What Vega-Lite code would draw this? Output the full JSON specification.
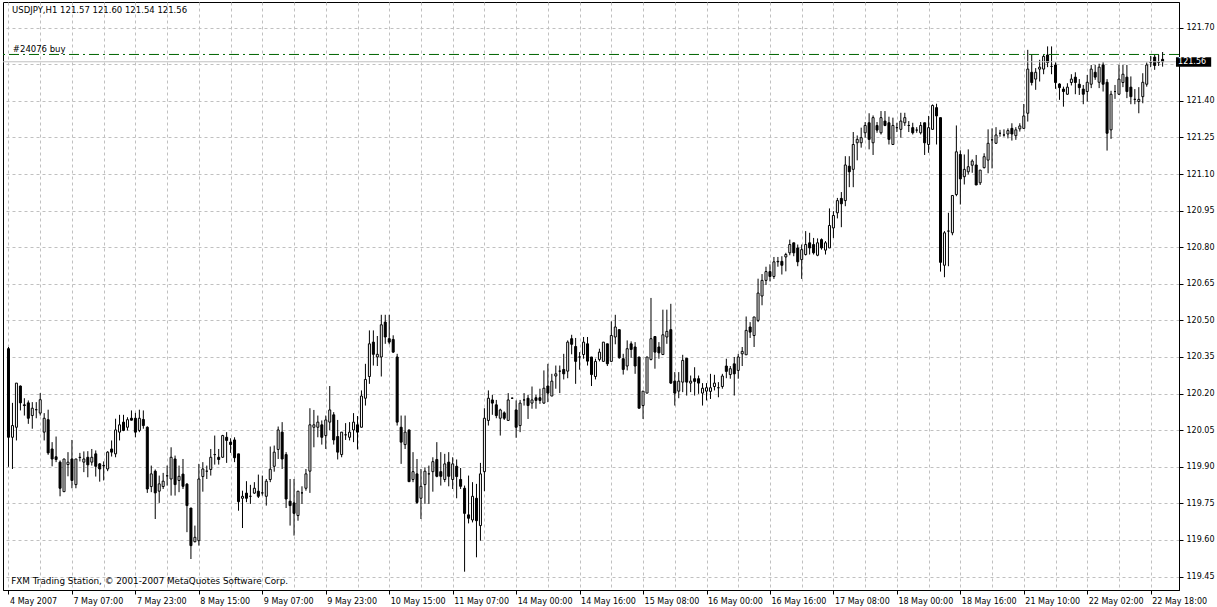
{
  "$schema": "https://vega.github.io/schema/vega-lite/v6.json",
  "width": 1176,
  "height": 588,
  "autosize": {"type": "none"},
  "padding": {"left": 3, "top": 2, "right": 38, "bottom": 17},
  "background": "white",
  "config": {
    "view": {"stroke": "#000000", "strokeWidth": 1},
    "axis": {"labelFont": "DejaVu Sans", "labelFontSize": 8, "labelColor": "#000000", "domainColor": "#000000", "tickColor": "#000000", "gridColor": "#c0c0c0", "gridDash": [3, 3], "gridWidth": 1, "labelOverlap": false},
    "text": {"font": "DejaVu Sans", "fontSize": 8.5}
  },
  "datasets": {
    "candles": [
      {"bar":0,"open":120.384,"high":120.391,"low":119.900,"close":120.021},
      {"bar":1,"open":120.021,"high":120.162,"low":119.891,"close":120.069},
      {"bar":2,"open":120.062,"high":120.243,"low":120.008,"close":120.243},
      {"bar":3,"open":120.231,"high":120.233,"low":120.131,"close":120.162},
      {"bar":4,"open":120.154,"high":120.181,"low":120.110,"close":120.151},
      {"bar":5,"open":120.162,"high":120.172,"low":120.076,"close":120.099},
      {"bar":6,"open":120.110,"high":120.165,"low":120.056,"close":120.140},
      {"bar":7,"open":120.134,"high":120.165,"low":120.099,"close":120.134},
      {"bar":8,"open":120.120,"high":120.202,"low":120.110,"close":120.175},
      {"bar":9,"open":120.042,"high":120.120,"low":120.008,"close":120.099},
      {"bar":10,"open":120.093,"high":120.134,"low":119.949,"close":119.957},
      {"bar":11,"open":119.973,"high":120.001,"low":119.902,"close":119.932},
      {"bar":12,"open":119.941,"high":120.024,"low":119.919,"close":119.930},
      {"bar":13,"open":119.919,"high":119.926,"low":119.779,"close":119.812},
      {"bar":14,"open":119.798,"high":119.932,"low":119.798,"close":119.932},
      {"bar":15,"open":119.909,"high":119.960,"low":119.861,"close":119.919},
      {"bar":16,"open":119.932,"high":120.010,"low":119.812,"close":119.844},
      {"bar":17,"open":119.827,"high":119.932,"low":119.812,"close":119.932},
      {"bar":18,"open":119.939,"high":119.957,"low":119.922,"close":119.938},
      {"bar":19,"open":119.919,"high":119.963,"low":119.878,"close":119.932},
      {"bar":20,"open":119.939,"high":119.964,"low":119.857,"close":119.908},
      {"bar":21,"open":119.919,"high":119.973,"low":119.905,"close":119.939},
      {"bar":22,"open":119.953,"high":119.967,"low":119.860,"close":119.902},
      {"bar":23,"open":119.912,"high":119.915,"low":119.839,"close":119.891},
      {"bar":24,"open":119.905,"high":119.922,"low":119.844,"close":119.904},
      {"bar":25,"open":119.891,"high":119.964,"low":119.882,"close":119.960},
      {"bar":26,"open":119.973,"high":120.008,"low":119.942,"close":119.960},
      {"bar":27,"open":119.953,"high":120.097,"low":119.939,"close":120.051},
      {"bar":28,"open":120.042,"high":120.113,"low":120.008,"close":120.072},
      {"bar":29,"open":120.083,"high":120.113,"low":120.046,"close":120.049},
      {"bar":30,"open":120.062,"high":120.103,"low":120.049,"close":120.093},
      {"bar":31,"open":120.099,"high":120.131,"low":120.090,"close":120.091},
      {"bar":32,"open":120.099,"high":120.121,"low":120.021,"close":120.042},
      {"bar":33,"open":120.049,"high":120.134,"low":120.042,"close":120.099},
      {"bar":34,"open":120.094,"high":120.131,"low":120.056,"close":120.069},
      {"bar":35,"open":120.062,"high":120.066,"low":119.793,"close":119.809},
      {"bar":36,"open":119.819,"high":119.905,"low":119.796,"close":119.871},
      {"bar":37,"open":119.882,"high":119.889,"low":119.686,"close":119.793},
      {"bar":38,"open":119.800,"high":119.864,"low":119.752,"close":119.830},
      {"bar":39,"open":119.819,"high":119.875,"low":119.809,"close":119.841},
      {"bar":40,"open":119.863,"high":119.905,"low":119.823,"close":119.863},
      {"bar":41,"open":119.850,"high":119.980,"low":119.782,"close":119.939},
      {"bar":42,"open":119.932,"high":119.946,"low":119.782,"close":119.827},
      {"bar":43,"open":119.844,"high":119.905,"low":119.796,"close":119.861},
      {"bar":44,"open":119.870,"high":119.932,"low":119.809,"close":119.820},
      {"bar":45,"open":119.829,"high":119.833,"low":119.632,"close":119.741},
      {"bar":46,"open":119.731,"high":119.731,"low":119.522,"close":119.577},
      {"bar":47,"open":119.593,"high":119.659,"low":119.590,"close":119.611},
      {"bar":48,"open":119.597,"high":119.912,"low":119.577,"close":119.850},
      {"bar":49,"open":119.860,"high":119.919,"low":119.798,"close":119.891},
      {"bar":50,"open":119.882,"high":119.905,"low":119.850,"close":119.882},
      {"bar":51,"open":119.889,"high":119.973,"low":119.864,"close":119.939},
      {"bar":52,"open":119.950,"high":120.028,"low":119.909,"close":119.950},
      {"bar":53,"open":119.939,"high":119.973,"low":119.909,"close":119.930},
      {"bar":54,"open":119.939,"high":120.031,"low":119.937,"close":120.028},
      {"bar":55,"open":120.021,"high":120.042,"low":119.916,"close":120.008},
      {"bar":56,"open":120.001,"high":120.017,"low":119.957,"close":119.991},
      {"bar":57,"open":120.010,"high":120.021,"low":119.919,"close":119.937},
      {"bar":58,"open":119.953,"high":119.953,"low":119.720,"close":119.757},
      {"bar":59,"open":119.771,"high":119.802,"low":119.649,"close":119.779},
      {"bar":60,"open":119.792,"high":119.841,"low":119.755,"close":119.771},
      {"bar":61,"open":119.779,"high":119.826,"low":119.748,"close":119.779},
      {"bar":62,"open":119.792,"high":119.837,"low":119.789,"close":119.812},
      {"bar":63,"open":119.800,"high":119.868,"low":119.772,"close":119.779},
      {"bar":64,"open":119.793,"high":119.864,"low":119.782,"close":119.793},
      {"bar":65,"open":119.779,"high":119.850,"low":119.741,"close":119.841},
      {"bar":66,"open":119.848,"high":119.983,"low":119.837,"close":119.890},
      {"bar":67,"open":119.902,"high":119.987,"low":119.880,"close":119.960},
      {"bar":68,"open":119.971,"high":120.065,"low":119.932,"close":120.051},
      {"bar":69,"open":120.042,"high":120.083,"low":119.891,"close":119.932},
      {"bar":70,"open":119.950,"high":119.960,"low":119.731,"close":119.768},
      {"bar":71,"open":119.759,"high":119.850,"low":119.659,"close":119.741},
      {"bar":72,"open":119.752,"high":119.850,"low":119.618,"close":119.709},
      {"bar":73,"open":119.700,"high":119.800,"low":119.679,"close":119.800},
      {"bar":74,"open":119.793,"high":119.820,"low":119.748,"close":119.793},
      {"bar":75,"open":119.812,"high":119.891,"low":119.802,"close":119.871},
      {"bar":76,"open":119.882,"high":120.140,"low":119.793,"close":120.072},
      {"bar":77,"open":120.062,"high":120.133,"low":119.980,"close":120.072},
      {"bar":78,"open":120.062,"high":120.110,"low":120.021,"close":120.083},
      {"bar":79,"open":120.072,"high":120.090,"low":119.991,"close":120.021},
      {"bar":80,"open":120.028,"high":120.110,"low":119.973,"close":120.092},
      {"bar":81,"open":120.083,"high":120.231,"low":120.049,"close":120.133},
      {"bar":82,"open":120.113,"high":120.124,"low":119.991,"close":120.010},
      {"bar":83,"open":120.024,"high":120.092,"low":119.930,"close":119.960},
      {"bar":84,"open":119.950,"high":120.042,"low":119.939,"close":120.042},
      {"bar":85,"open":120.031,"high":120.079,"low":120.010,"close":120.031},
      {"bar":86,"open":120.021,"high":120.083,"low":120.008,"close":120.042},
      {"bar":87,"open":120.051,"high":120.120,"low":120.001,"close":120.083},
      {"bar":88,"open":120.072,"high":120.108,"low":119.971,"close":120.042},
      {"bar":89,"open":120.062,"high":120.213,"low":120.062,"close":120.190},
      {"bar":90,"open":120.181,"high":120.322,"low":120.151,"close":120.258},
      {"bar":91,"open":120.270,"high":120.459,"low":120.240,"close":120.404},
      {"bar":92,"open":120.411,"high":120.459,"low":120.315,"close":120.361},
      {"bar":93,"open":120.350,"high":120.436,"low":120.313,"close":120.361},
      {"bar":94,"open":120.350,"high":120.523,"low":120.270,"close":120.482},
      {"bar":95,"open":120.493,"high":120.523,"low":120.404,"close":120.432},
      {"bar":96,"open":120.425,"high":120.523,"low":120.402,"close":120.411},
      {"bar":97,"open":120.422,"high":120.439,"low":120.367,"close":120.370},
      {"bar":98,"open":120.350,"high":120.363,"low":120.069,"close":120.083},
      {"bar":99,"open":120.062,"high":120.110,"low":119.912,"close":120.001},
      {"bar":100,"open":119.991,"high":120.110,"low":119.973,"close":120.042},
      {"bar":101,"open":120.051,"high":120.051,"low":119.839,"close":119.839},
      {"bar":102,"open":119.848,"high":119.960,"low":119.837,"close":119.880},
      {"bar":103,"open":119.871,"high":119.932,"low":119.748,"close":119.754},
      {"bar":104,"open":119.771,"high":119.891,"low":119.686,"close":119.820},
      {"bar":105,"open":119.827,"high":119.898,"low":119.748,"close":119.882},
      {"bar":106,"open":119.871,"high":119.905,"low":119.748,"close":119.871},
      {"bar":107,"open":119.880,"high":119.939,"low":119.798,"close":119.921},
      {"bar":108,"open":119.930,"high":120.001,"low":119.857,"close":119.861},
      {"bar":109,"open":119.880,"high":119.960,"low":119.823,"close":119.861},
      {"bar":110,"open":119.848,"high":119.953,"low":119.837,"close":119.912},
      {"bar":111,"open":119.919,"high":119.960,"low":119.820,"close":119.861},
      {"bar":112,"open":119.848,"high":119.939,"low":119.809,"close":119.912},
      {"bar":113,"open":119.902,"high":119.930,"low":119.771,"close":119.860},
      {"bar":114,"open":119.848,"high":119.895,"low":119.809,"close":119.820},
      {"bar":115,"open":119.812,"high":119.823,"low":119.470,"close":119.709},
      {"bar":116,"open":119.703,"high":119.864,"low":119.668,"close":119.689},
      {"bar":117,"open":119.682,"high":119.837,"low":119.672,"close":119.779},
      {"bar":118,"open":119.771,"high":119.830,"low":119.529,"close":119.679},
      {"bar":119,"open":119.659,"high":119.916,"low":119.597,"close":119.871},
      {"bar":120,"open":119.880,"high":120.140,"low":119.800,"close":120.099},
      {"bar":121,"open":120.090,"high":120.213,"low":120.069,"close":120.181},
      {"bar":122,"open":120.174,"high":120.195,"low":120.113,"close":120.161},
      {"bar":123,"open":120.154,"high":120.174,"low":120.099,"close":120.110},
      {"bar":124,"open":120.099,"high":120.138,"low":120.028,"close":120.133},
      {"bar":125,"open":120.121,"high":120.127,"low":120.092,"close":120.099},
      {"bar":126,"open":120.090,"high":120.202,"low":120.090,"close":120.174},
      {"bar":127,"open":120.181,"high":120.184,"low":120.178,"close":120.181},
      {"bar":128,"open":120.133,"high":120.172,"low":120.019,"close":120.062},
      {"bar":129,"open":120.069,"high":120.174,"low":120.042,"close":120.161},
      {"bar":130,"open":120.174,"high":120.202,"low":120.151,"close":120.174},
      {"bar":131,"open":120.181,"high":120.195,"low":120.096,"close":120.151},
      {"bar":132,"open":120.161,"high":120.229,"low":120.138,"close":120.174},
      {"bar":133,"open":120.183,"high":120.195,"low":120.138,"close":120.172},
      {"bar":134,"open":120.183,"high":120.220,"low":120.158,"close":120.172},
      {"bar":135,"open":120.161,"high":120.295,"low":120.158,"close":120.222},
      {"bar":136,"open":120.231,"high":120.322,"low":120.165,"close":120.202},
      {"bar":137,"open":120.190,"high":120.281,"low":120.190,"close":120.251},
      {"bar":138,"open":120.272,"high":120.315,"low":120.220,"close":120.281},
      {"bar":139,"open":120.292,"high":120.315,"low":120.202,"close":120.292},
      {"bar":140,"open":120.299,"high":120.363,"low":120.258,"close":120.281},
      {"bar":141,"open":120.292,"high":120.418,"low":120.263,"close":120.411},
      {"bar":142,"open":120.425,"high":120.441,"low":120.361,"close":120.402},
      {"bar":143,"open":120.393,"high":120.428,"low":120.240,"close":120.332},
      {"bar":144,"open":120.350,"high":120.370,"low":120.298,"close":120.350},
      {"bar":145,"open":120.360,"high":120.432,"low":120.343,"close":120.411},
      {"bar":146,"open":120.404,"high":120.432,"low":120.315,"close":120.333},
      {"bar":147,"open":120.350,"high":120.350,"low":120.231,"close":120.278},
      {"bar":148,"open":120.270,"high":120.343,"low":120.258,"close":120.332},
      {"bar":149,"open":120.340,"high":120.384,"low":120.332,"close":120.370},
      {"bar":150,"open":120.332,"high":120.411,"low":120.332,"close":120.411},
      {"bar":151,"open":120.404,"high":120.404,"low":120.313,"close":120.322},
      {"bar":152,"open":120.332,"high":120.496,"low":120.332,"close":120.438},
      {"bar":153,"open":120.432,"high":120.523,"low":120.402,"close":120.473},
      {"bar":154,"open":120.462,"high":120.462,"low":120.343,"close":120.347},
      {"bar":155,"open":120.343,"high":120.363,"low":120.278,"close":120.299},
      {"bar":156,"open":120.313,"high":120.418,"low":120.295,"close":120.384},
      {"bar":157,"open":120.404,"high":120.414,"low":120.347,"close":120.381},
      {"bar":158,"open":120.391,"high":120.411,"low":120.281,"close":120.313},
      {"bar":159,"open":120.350,"high":120.350,"low":120.140,"close":120.140},
      {"bar":160,"open":120.151,"high":120.210,"low":120.096,"close":120.210},
      {"bar":161,"open":120.202,"high":120.350,"low":120.202,"close":120.350},
      {"bar":162,"open":120.340,"high":120.592,"low":120.336,"close":120.425},
      {"bar":163,"open":120.434,"high":120.434,"low":120.302,"close":120.370},
      {"bar":164,"open":120.391,"high":120.411,"low":120.343,"close":120.367},
      {"bar":165,"open":120.360,"high":120.544,"low":120.360,"close":120.441},
      {"bar":166,"open":120.432,"high":120.544,"low":120.404,"close":120.455},
      {"bar":167,"open":120.462,"high":120.568,"low":120.240,"close":120.243},
      {"bar":168,"open":120.251,"high":120.288,"low":120.151,"close":120.202},
      {"bar":169,"open":120.210,"high":120.288,"low":120.181,"close":120.251},
      {"bar":170,"open":120.247,"high":120.359,"low":120.206,"close":120.336},
      {"bar":171,"open":120.345,"high":120.345,"low":120.192,"close":120.247},
      {"bar":172,"open":120.243,"high":120.274,"low":120.206,"close":120.251},
      {"bar":173,"open":120.261,"high":120.308,"low":120.192,"close":120.250},
      {"bar":174,"open":120.261,"high":120.274,"low":120.199,"close":120.243},
      {"bar":175,"open":120.202,"high":120.243,"low":120.151,"close":120.222},
      {"bar":176,"open":120.210,"high":120.243,"low":120.172,"close":120.224},
      {"bar":177,"open":120.209,"high":120.281,"low":120.178,"close":120.224},
      {"bar":178,"open":120.229,"high":120.277,"low":120.213,"close":120.243},
      {"bar":179,"open":120.224,"high":120.247,"low":120.185,"close":120.224},
      {"bar":180,"open":120.229,"high":120.281,"low":120.220,"close":120.272},
      {"bar":181,"open":120.313,"high":120.343,"low":120.263,"close":120.291},
      {"bar":182,"open":120.278,"high":120.313,"low":120.261,"close":120.302},
      {"bar":183,"open":120.322,"high":120.350,"low":120.192,"close":120.281},
      {"bar":184,"open":120.295,"high":120.363,"low":120.261,"close":120.350},
      {"bar":185,"open":120.363,"high":120.391,"low":120.313,"close":120.373},
      {"bar":186,"open":120.359,"high":120.516,"low":120.359,"close":120.459},
      {"bar":187,"open":120.473,"high":120.493,"low":120.428,"close":120.452},
      {"bar":188,"open":120.438,"high":120.514,"low":120.391,"close":120.514},
      {"bar":189,"open":120.500,"high":120.671,"low":120.493,"close":120.612},
      {"bar":190,"open":120.600,"high":120.690,"low":120.562,"close":120.664},
      {"bar":191,"open":120.664,"high":120.720,"low":120.645,"close":120.700},
      {"bar":192,"open":120.700,"high":120.730,"low":120.660,"close":120.680},
      {"bar":193,"open":120.680,"high":120.760,"low":120.670,"close":120.740},
      {"bar":194,"open":120.740,"high":120.760,"low":120.720,"close":120.742},
      {"bar":195,"open":120.742,"high":120.763,"low":120.688,"close":120.726},
      {"bar":196,"open":120.760,"high":120.777,"low":120.701,"close":120.770},
      {"bar":197,"open":120.777,"high":120.831,"low":120.767,"close":120.811},
      {"bar":198,"open":120.818,"high":120.818,"low":120.763,"close":120.777},
      {"bar":199,"open":120.797,"high":120.811,"low":120.722,"close":120.740},
      {"bar":200,"open":120.749,"high":120.811,"low":120.670,"close":120.790},
      {"bar":201,"open":120.770,"high":120.866,"low":120.766,"close":120.811},
      {"bar":202,"open":120.818,"high":120.859,"low":120.770,"close":120.797},
      {"bar":203,"open":120.811,"high":120.838,"low":120.770,"close":120.777},
      {"bar":204,"open":120.767,"high":120.836,"low":120.763,"close":120.818},
      {"bar":205,"open":120.831,"high":120.836,"low":120.790,"close":120.797},
      {"bar":206,"open":120.788,"high":120.825,"low":120.770,"close":120.818},
      {"bar":207,"open":120.797,"high":120.959,"low":120.797,"close":120.889},
      {"bar":208,"open":120.879,"high":120.948,"low":120.838,"close":120.930},
      {"bar":209,"open":120.941,"high":121.002,"low":120.918,"close":120.991},
      {"bar":210,"open":121.000,"high":121.026,"low":120.882,"close":120.978},
      {"bar":211,"open":120.991,"high":121.173,"low":120.968,"close":121.137},
      {"bar":212,"open":121.132,"high":121.173,"low":121.046,"close":121.109},
      {"bar":213,"open":121.119,"high":121.272,"low":121.046,"close":121.221},
      {"bar":214,"open":121.228,"high":121.258,"low":121.156,"close":121.242},
      {"bar":215,"open":121.228,"high":121.290,"low":121.208,"close":121.249},
      {"bar":216,"open":121.269,"high":121.313,"low":121.249,"close":121.299},
      {"bar":217,"open":121.310,"high":121.349,"low":121.201,"close":121.242},
      {"bar":218,"open":121.228,"high":121.340,"low":121.178,"close":121.331},
      {"bar":219,"open":121.299,"high":121.313,"low":121.269,"close":121.280},
      {"bar":220,"open":121.269,"high":121.358,"low":121.262,"close":121.331},
      {"bar":221,"open":121.317,"high":121.358,"low":121.296,"close":121.299},
      {"bar":222,"open":121.310,"high":121.335,"low":121.221,"close":121.242},
      {"bar":223,"open":121.221,"high":121.331,"low":121.221,"close":121.299},
      {"bar":224,"open":121.290,"high":121.310,"low":121.272,"close":121.290},
      {"bar":225,"open":121.283,"high":121.351,"low":121.249,"close":121.317},
      {"bar":226,"open":121.310,"high":121.351,"low":121.297,"close":121.331},
      {"bar":227,"open":121.299,"high":121.317,"low":121.272,"close":121.299},
      {"bar":228,"open":121.290,"high":121.310,"low":121.262,"close":121.269},
      {"bar":229,"open":121.280,"high":121.292,"low":121.269,"close":121.280},
      {"bar":230,"open":121.269,"high":121.313,"low":121.262,"close":121.299},
      {"bar":231,"open":121.310,"high":121.310,"low":121.178,"close":121.228},
      {"bar":232,"open":121.221,"high":121.338,"low":121.187,"close":121.290},
      {"bar":233,"open":121.283,"high":121.385,"low":121.283,"close":121.381},
      {"bar":234,"open":121.372,"high":121.388,"low":121.221,"close":121.338},
      {"bar":235,"open":121.331,"high":121.331,"low":120.700,"close":120.738},
      {"bar":236,"open":120.726,"high":120.866,"low":120.677,"close":120.859},
      {"bar":237,"open":120.866,"high":120.941,"low":120.722,"close":120.866},
      {"bar":238,"open":120.859,"high":121.012,"low":120.849,"close":121.012},
      {"bar":239,"open":121.016,"high":121.299,"low":121.009,"close":121.191},
      {"bar":240,"open":121.180,"high":121.197,"low":120.975,"close":121.080},
      {"bar":241,"open":121.089,"high":121.180,"low":121.057,"close":121.119},
      {"bar":242,"open":121.109,"high":121.201,"low":121.098,"close":121.130},
      {"bar":243,"open":121.136,"high":121.160,"low":121.105,"close":121.153},
      {"bar":244,"open":121.137,"high":121.178,"low":121.055,"close":121.055},
      {"bar":245,"open":121.064,"high":121.116,"low":121.055,"close":121.116},
      {"bar":246,"open":121.126,"high":121.185,"low":121.123,"close":121.171},
      {"bar":247,"open":121.157,"high":121.283,"low":121.103,"close":121.226},
      {"bar":248,"open":121.240,"high":121.287,"low":121.123,"close":121.240},
      {"bar":249,"open":121.226,"high":121.292,"low":121.223,"close":121.260},
      {"bar":250,"open":121.267,"high":121.281,"low":121.253,"close":121.267},
      {"bar":251,"open":121.260,"high":121.283,"low":121.253,"close":121.260},
      {"bar":252,"open":121.264,"high":121.287,"low":121.246,"close":121.278},
      {"bar":253,"open":121.287,"high":121.308,"low":121.237,"close":121.264},
      {"bar":254,"open":121.257,"high":121.292,"low":121.240,"close":121.281},
      {"bar":255,"open":121.285,"high":121.308,"low":121.274,"close":121.297},
      {"bar":256,"open":121.287,"high":121.387,"low":121.287,"close":121.338},
      {"bar":257,"open":121.349,"high":121.609,"low":121.315,"close":121.530},
      {"bar":258,"open":121.517,"high":121.588,"low":121.463,"close":121.475},
      {"bar":259,"open":121.489,"high":121.534,"low":121.445,"close":121.517},
      {"bar":260,"open":121.530,"high":121.568,"low":121.479,"close":121.538},
      {"bar":261,"open":121.530,"high":121.588,"low":121.509,"close":121.582},
      {"bar":262,"open":121.588,"high":121.623,"low":121.538,"close":121.557},
      {"bar":263,"open":121.541,"high":121.623,"low":121.509,"close":121.541},
      {"bar":264,"open":121.547,"high":121.558,"low":121.449,"close":121.475},
      {"bar":265,"open":121.469,"high":121.472,"low":121.404,"close":121.454},
      {"bar":266,"open":121.448,"high":121.458,"low":121.376,"close":121.438},
      {"bar":267,"open":121.427,"high":121.472,"low":121.424,"close":121.456},
      {"bar":268,"open":121.475,"high":121.509,"low":121.463,"close":121.489},
      {"bar":269,"open":121.497,"high":121.517,"low":121.427,"close":121.475},
      {"bar":270,"open":121.468,"high":121.489,"low":121.424,"close":121.454},
      {"bar":271,"open":121.448,"high":121.465,"low":121.386,"close":121.427},
      {"bar":272,"open":121.438,"high":121.506,"low":121.397,"close":121.476},
      {"bar":273,"open":121.468,"high":121.547,"low":121.452,"close":121.530},
      {"bar":274,"open":121.517,"high":121.547,"low":121.486,"close":121.497},
      {"bar":275,"open":121.476,"high":121.552,"low":121.452,"close":121.538},
      {"bar":276,"open":121.547,"high":121.558,"low":121.438,"close":121.468},
      {"bar":277,"open":121.476,"high":121.489,"low":121.196,"close":121.267},
      {"bar":278,"open":121.281,"high":121.441,"low":121.244,"close":121.427},
      {"bar":279,"open":121.438,"high":121.465,"low":121.408,"close":121.438},
      {"bar":280,"open":121.427,"high":121.547,"low":121.424,"close":121.489},
      {"bar":281,"open":121.475,"high":121.547,"low":121.456,"close":121.509},
      {"bar":282,"open":121.497,"high":121.547,"low":121.411,"close":121.438},
      {"bar":283,"open":121.456,"high":121.500,"low":121.386,"close":121.417},
      {"bar":284,"open":121.406,"high":121.448,"low":121.386,"close":121.406},
      {"bar":285,"open":121.397,"high":121.456,"low":121.349,"close":121.406},
      {"bar":286,"open":121.417,"high":121.513,"low":121.390,"close":121.476},
      {"bar":287,"open":121.468,"high":121.557,"low":121.458,"close":121.547},
      {"bar":288,"open":121.557,"high":121.584,"low":121.538,"close":121.557},
      {"bar":289,"open":121.579,"high":121.588,"low":121.527,"close":121.545},
      {"bar":290,"open":121.557,"high":121.588,"low":121.543,"close":121.557},
      {"bar":291,"open":121.570,"high":121.600,"low":121.540,"close":121.560}
    ]
  },
  "layer": [
    {
      "data": {"name": "candles"},
      "mark": {"type": "rule", "clip": true, "color": "#000000", "strokeWidth": 1},
      "encoding": {
        "x": {
          "field": "bar", "type": "quantitative",
          "scale": {"domain": [-0.125, 293.875], "nice": false, "zero": false},
          "axis": {
            "orient": "bottom", "title": null, "tickCount": 200,
            "values": [0,8,16,24,32,40,48,56,64,72,80,88,96,104,112,120,128,136,144,152,160,168,176,184,192,200,208,216,224,232,240,248,256,264,272,280,288],
            "grid": true, "tickSize": 4,
            "tickOpacity": {"condition": {"test": "datum.value % 16 === 0", "value": 1}, "value": 0},
            "labelExpr": "datum.value % 16 === 0 ? ['4 May 2007','7 May 07:00','7 May 23:00','8 May 15:00','9 May 07:00','9 May 23:00','10 May 15:00','11 May 07:00','14 May 00:00','14 May 16:00','15 May 08:00','16 May 00:00','16 May 16:00','17 May 08:00','18 May 00:00','18 May 16:00','21 May 10:00','22 May 02:00','22 May 18:00'][datum.value / 16] : ''",
            "labelAlign": "left", "labelBaseline": "top", "labelPadding": 3, "labelOffset": 1,
            "labelFlush": false, "labelOverlap": false, "labelBound": false
          }
        },
        "y": {
          "field": "low", "type": "quantitative",
          "scale": {"domain": [119.395, 121.805], "nice": false, "zero": false},
          "axis": {
            "orient": "right", "title": null, "tickCount": 200,
            "values": [119.45,119.6,119.75,119.9,120.05,120.2,120.35,120.5,120.65,120.8,120.95,121.1,121.25,121.4,121.55,121.7],
            "labelExpr": "abs(datum.value - 121.55) < 0.001 ? '' : format(datum.value, '.2f')",
            "grid": true, "tickSize": 4, "labelPadding": 3,
            "labelAlign": "left", "labelBaseline": "middle",
            "labelFlush": false, "labelOverlap": false, "labelBound": false
          }
        },
        "y2": {"field": "high"}
      }
    },
    {
      "data": {"name": "candles"},
      "mark": {"type": "bar", "clip": true, "width": 2, "stroke": "#000000", "strokeWidth": 1},
      "encoding": {
        "x": {"field": "bar", "type": "quantitative"},
        "y": {"field": "open", "type": "quantitative"},
        "y2": {"field": "close"},
        "fill": {"condition": {"test": "datum.close >= datum.open", "value": "#ffffff"}, "value": "#000000"}
      }
    },
    {
      "data": {"values": [{"line": "bid", "price": 121.56}]},
      "mark": {"type": "rule", "color": "#c0c0c0", "strokeWidth": 1},
      "encoding": {"y": {"field": "price", "type": "quantitative"}}
    },
    {
      "data": {"values": [{"line": "order", "price": 121.59}]},
      "mark": {"type": "rule", "color": "#006400", "strokeWidth": 1, "strokeDash": [10, 4, 2, 4]},
      "encoding": {"y": {"field": "price", "type": "quantitative"}}
    },
    {
      "data": {"values": [{"label": "#24076 buy"}]},
      "mark": {"type": "text", "align": "left", "baseline": "middle", "color": "#000000", "font": "DejaVu Sans", "fontSize": 8.5},
      "encoding": {
        "x": {"datum": 1.1, "type": "quantitative"},
        "y": {"datum": 121.613, "type": "quantitative"},
        "text": {"field": "label"}
      }
    },
    {
      "data": {"values": [{"label": "USDJPY,H1  121.57 121.60 121.54 121.56"}]},
      "mark": {"type": "text", "align": "left", "baseline": "middle", "color": "#000000", "font": "DejaVu Sans", "fontSize": 8.5},
      "encoding": {
        "x": {"datum": 0.9, "type": "quantitative"},
        "y": {"datum": 121.773, "type": "quantitative"},
        "text": {"field": "label"}
      }
    },
    {
      "data": {"values": [{"label": "FXM Trading Station, © 2001-2007 MetaQuotes Software Corp."}]},
      "mark": {"type": "text", "align": "left", "baseline": "middle", "color": "#000000", "font": "DejaVu Sans", "fontSize": 8.8},
      "encoding": {
        "x": {"datum": 0.7, "type": "quantitative"},
        "y": {"datum": 119.432, "type": "quantitative"},
        "text": {"field": "label"}
      }
    },
    {
      "data": {"values": [{"price": 121.56}]},
      "mark": {"type": "rect", "color": "#000000"},
      "encoding": {
        "x": {"datum": 294.375, "type": "quantitative"},
        "x2": {"datum": 303.25},
        "y": {"datum": 121.54, "type": "quantitative"},
        "y2": {"datum": 121.579}
      }
    },
    {
      "data": {"values": [{"label": "121.56", "price": 121.56}]},
      "mark": {"type": "text", "align": "left", "baseline": "middle", "color": "#ffffff", "font": "DejaVu Sans", "fontSize": 8},
      "encoding": {
        "x": {"datum": 294.9, "type": "quantitative"},
        "y": {"field": "price", "type": "quantitative"},
        "text": {"field": "label"}
      }
    }
  ]
}
